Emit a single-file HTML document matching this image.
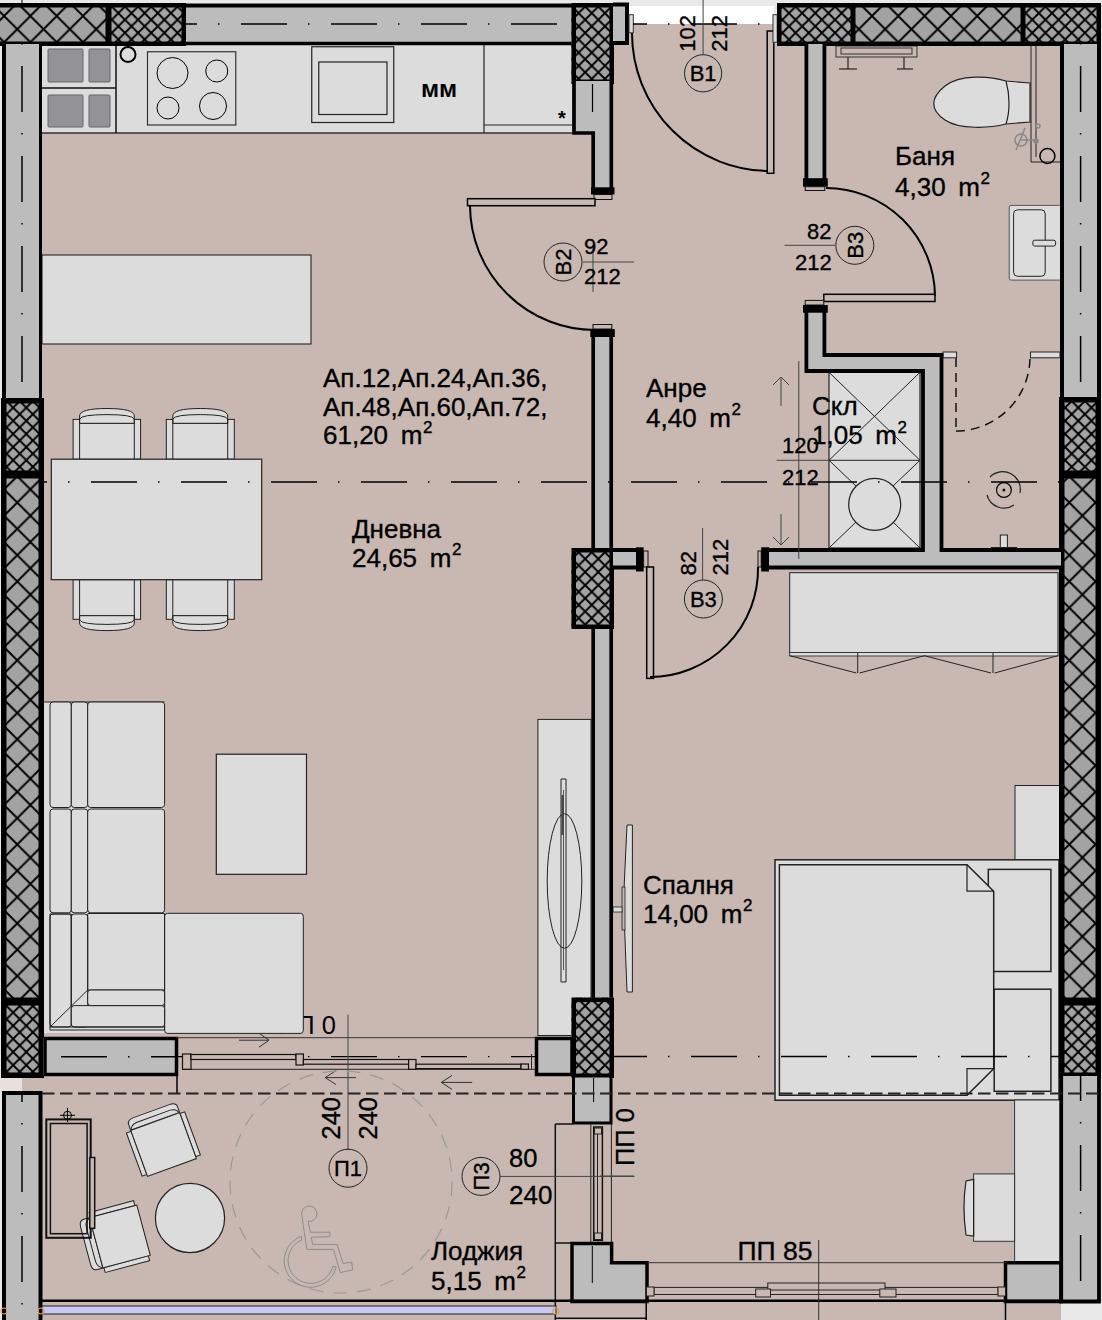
<!DOCTYPE html>
<html><head><meta charset="utf-8"><style>html,body{margin:0;padding:0;background:#e9e9e9;overflow:hidden}svg{display:block}</style></head>
<body><svg width="1102" height="1320" viewBox="0 0 1102 1320" font-family="Liberation Sans, sans-serif" style="white-space:pre">
<defs>
<pattern id="hb" patternUnits="userSpaceOnUse" width="26.3" height="26.3" patternTransform="translate(4.1 -10.3)">
<rect width="26.3" height="26.3" fill="#a3a3a3"/>
<path d="M-2 -2 L28.3 28.3 M28.3 -2 L-2 28.3" stroke="#000" stroke-width="1.9"/>
</pattern>
<pattern id="hs" patternUnits="userSpaceOnUse" width="13.15" height="13.15">
<rect width="13.15" height="13.15" fill="#a3a3a3"/>
<path d="M-1 -1 L14.15 14.15 M14.15 -1 L-1 14.15" stroke="#000" stroke-width="1.9"/>
</pattern>
</defs>
<rect x="0" y="0" width="1102" height="1320" fill="#e9e9e9"/>
<rect x="629" y="6" width="145" height="19" fill="#fff" stroke="none" stroke-width="1" />
<rect x="42" y="44" width="551" height="993" fill="#c9b8b2" stroke="none" stroke-width="1" />
<rect x="42" y="24" width="1019" height="1013" fill="#c9b8b2" stroke="none" stroke-width="1" />
<rect x="611" y="24" width="450" height="1276" fill="#c9b8b2" stroke="none" stroke-width="1" />
<rect x="22" y="1037" width="571" height="56" fill="#c9b8b2" stroke="none" stroke-width="1" />
<rect x="41" y="1093" width="570" height="207" fill="#c9b8b2" stroke="none" stroke-width="1" />
<rect x="42" y="1300" width="1019" height="20" fill="#c9b8b2" stroke="none" stroke-width="1" />
<rect x="0" y="1076" width="22" height="17" fill="#e8e0dc" stroke="none" stroke-width="1" />
<rect x="42" y="44" width="530" height="89" fill="#dcdcdc" stroke="none" stroke-width="1" />
<line x1="42" y1="133" x2="572" y2="133" stroke="#333" stroke-width="1.5" />
<line x1="116" y1="44" x2="116" y2="133" stroke="#111" stroke-width="1.5" />
<line x1="42" y1="88" x2="116" y2="88" stroke="#111" stroke-width="1.5" />
<rect x="48" y="49" width="35" height="33" rx="1" fill="#939397" stroke="#666" stroke-width="1" />
<rect x="89" y="49" width="21" height="33" rx="1" fill="#939397" stroke="#666" stroke-width="1" />
<rect x="48" y="95" width="35" height="32" rx="1" fill="#939397" stroke="#666" stroke-width="1" />
<rect x="89" y="95" width="21" height="32" rx="1" fill="#939397" stroke="#666" stroke-width="1" />
<circle cx="128" cy="54.5" r="7.5" fill="none" stroke="#000" stroke-width="2" />
<rect x="147.5" y="51.75" width="88.25" height="73.25" fill="none" stroke="#333" stroke-width="1.2" />
<circle cx="172.5" cy="73" r="15.5" fill="none" stroke="#000" stroke-width="1" />
<circle cx="216.75" cy="71" r="11" fill="none" stroke="#000" stroke-width="1" />
<circle cx="168" cy="108" r="11" fill="none" stroke="#000" stroke-width="1" />
<circle cx="213" cy="106" r="13.5" fill="none" stroke="#000" stroke-width="1" />
<rect x="311.75" y="46.75" width="82" height="75.75" fill="none" stroke="#222" stroke-width="1.2" />
<rect x="318.75" y="62" width="68.25" height="52.5" fill="none" stroke="#222" stroke-width="1.2" />
<text x="439" y="97" font-size="24.5" text-anchor="middle" font-weight="bold" >мм</text>
<line x1="484" y1="44" x2="484" y2="133" stroke="#222" stroke-width="1.2" />
<line x1="484" y1="125" x2="572" y2="125" stroke="#222" stroke-width="1.2" />
<text x="562" y="125" font-size="20" text-anchor="middle" font-weight="bold" >*</text>
<rect x="42" y="255" width="269" height="89" fill="#dcdcdc" stroke="#333" stroke-width="1.2" />
<rect x="73.1" y="419.4" width="67.5" height="39.8" fill="#dcdcdc" stroke="#222" stroke-width="1" />
<rect x="79.6" y="423.3" width="54.7" height="35.9" fill="#dcdcdc" stroke="#222" stroke-width="1" />
<path d="M79.6 423.3 L79.6 416 Q79.6 408.5 106.95 408.5 Q134.3 408.5 134.3 416 L134.3 423.3 Z" fill="#dcdcdc" stroke="#222" stroke-width="1" />
<path d="M79.6 423.3 L79.6 419 Q81.6 414.6 106.95 414.6 Q132.3 414.6 134.3 419 L134.3 423.3" fill="none" stroke="#222" stroke-width="1" />
<rect x="73.1" y="579.7" width="67.5" height="39.6" fill="#dcdcdc" stroke="#222" stroke-width="1" />
<rect x="79.6" y="579.7" width="54.7" height="36" fill="#dcdcdc" stroke="#222" stroke-width="1" />
<path d="M79.6 615.7 L79.6 623 Q79.6 630.6 106.95 630.6 Q134.3 630.6 134.3 623 L134.3 615.7 Z" fill="#dcdcdc" stroke="#222" stroke-width="1" />
<path d="M79.6 615.7 L79.6 620 Q81.6 624.4 106.95 624.4 Q132.3 624.4 134.3 620 L134.3 615.7" fill="none" stroke="#222" stroke-width="1" />
<rect x="166.3" y="419.4" width="68" height="39.8" fill="#dcdcdc" stroke="#222" stroke-width="1" />
<rect x="172.8" y="423.3" width="54.9" height="35.9" fill="#dcdcdc" stroke="#222" stroke-width="1" />
<path d="M172.8 423.3 L172.8 416 Q172.8 408.5 200.25 408.5 Q227.7 408.5 227.7 416 L227.7 423.3 Z" fill="#dcdcdc" stroke="#222" stroke-width="1" />
<path d="M172.8 423.3 L172.8 419 Q174.8 414.6 200.25 414.6 Q225.7 414.6 227.7 419 L227.7 423.3" fill="none" stroke="#222" stroke-width="1" />
<rect x="166.3" y="579.7" width="68" height="39.6" fill="#dcdcdc" stroke="#222" stroke-width="1" />
<rect x="172.8" y="579.7" width="54.9" height="36" fill="#dcdcdc" stroke="#222" stroke-width="1" />
<path d="M172.8 615.7 L172.8 623 Q172.8 630.6 200.25 630.6 Q227.7 630.6 227.7 623 L227.7 615.7 Z" fill="#dcdcdc" stroke="#222" stroke-width="1" />
<path d="M172.8 615.7 L172.8 620 Q174.8 624.4 200.25 624.4 Q225.7 624.4 227.7 620 L227.7 615.7" fill="none" stroke="#222" stroke-width="1" />
<rect x="51.3" y="459.2" width="210.4" height="120.5" fill="#dcdcdc" stroke="#222" stroke-width="1.2" />
<text x="278" y="1034.3" font-size="25.5" text-anchor="start" font-weight="normal" >ПП 0</text>
<rect x="44" y="702" width="120.6" height="331" fill="#dcdcdc" stroke="none" stroke-width="1" />
<rect x="164.6" y="913.3" width="138.7" height="120.1" rx="3" fill="#dcdcdc" stroke="#222" stroke-width="1" />
<line x1="44" y1="702" x2="164.6" y2="702" stroke="#222" stroke-width="1" />
<rect x="50" y="702" width="21.3" height="105.5" rx="3" fill="#dcdcdc" stroke="#222" stroke-width="1" />
<rect x="71.3" y="702" width="16.4" height="105.5" rx="3" fill="#dcdcdc" stroke="#222" stroke-width="1" />
<rect x="50" y="809" width="21.3" height="103.8" rx="3" fill="#dcdcdc" stroke="#222" stroke-width="1" />
<rect x="71.3" y="809" width="16.4" height="103.8" rx="3" fill="#dcdcdc" stroke="#222" stroke-width="1" />
<rect x="50" y="914" width="21.3" height="113" rx="3" fill="#dcdcdc" stroke="#222" stroke-width="1" />
<rect x="71.3" y="914" width="16.4" height="113" rx="3" fill="#dcdcdc" stroke="#222" stroke-width="1" />
<rect x="87.7" y="702" width="76.9" height="105.5" rx="3" fill="#dcdcdc" stroke="#222" stroke-width="1" />
<rect x="87.7" y="809" width="76.9" height="103.8" rx="3" fill="#dcdcdc" stroke="#222" stroke-width="1" />
<path d="M87.7 913.5 L164.6 913.5 L164.6 1030 L50 1030 L50 914 L71.3 914" fill="none" stroke="#222" stroke-width="1" />
<path d="M87.7 914 L87.7 990 L164.6 990" fill="none" stroke="#222" stroke-width="1" />
<rect x="71.3" y="1005.6" width="93.3" height="21.4" rx="3" fill="#dcdcdc" stroke="#222" stroke-width="1" />
<rect x="87.7" y="990" width="76.9" height="15.6" rx="3" fill="#dcdcdc" stroke="#222" stroke-width="1" />
<line x1="71.3" y1="914" x2="71.3" y2="1006" stroke="#222" stroke-width="1" />
<line x1="50" y1="1027" x2="87.7" y2="990" stroke="#222" stroke-width="1" />
<line x1="50" y1="1027" x2="164.6" y2="1027" stroke="#222" stroke-width="1" />
<rect x="216.3" y="754.2" width="90.2" height="120.1" fill="#dcdcdc" stroke="#222" stroke-width="1.2" />
<rect x="537.9" y="719.4" width="53.1" height="316.1" fill="#dcdcdc" stroke="#222" stroke-width="1" />
<path d="M561 779 L566 779 L566 982 L561 982 Z" fill="#dcdcdc" stroke="#222" stroke-width="1" />
<line x1="563.5" y1="790" x2="563.5" y2="970" stroke="#333" stroke-width="0.8" />
<ellipse cx="564.5" cy="881" rx="17.3" ry="67.3" fill="none" stroke="#222" stroke-width="1"/>
<rect x="561.5" y="795" width="2" height="40" fill="#444" stroke="none" stroke-width="1" />
<path d="M627 825 L632.4 825 L632.4 992 L627 992 L623.5 900 Z" fill="#dcdcdc" stroke="#222" stroke-width="1" />
<rect x="622" y="887" width="3" height="43" fill="#bbb" stroke="#222" stroke-width="0.8" />
<rect x="613" y="907" width="9" height="5" fill="#dcdcdc" stroke="#222" stroke-width="0.8" />
<rect x="836" y="46" width="81" height="11" fill="none" stroke="#333" stroke-width="1" />
<rect x="841" y="48" width="71" height="6" fill="none" stroke="#333" stroke-width="1" />
<line x1="848" y1="57" x2="848" y2="69" stroke="#222" stroke-width="1.2" />
<line x1="839" y1="69" x2="857" y2="69" stroke="#222" stroke-width="1.2" />
<line x1="904" y1="57" x2="904" y2="69" stroke="#222" stroke-width="1.2" />
<line x1="897" y1="69" x2="913" y2="69" stroke="#222" stroke-width="1.2" />
<path d="M1030 83 L1006 81 C 990 76, 960 74, 945 86 C 930 98, 930 110, 945 120 C 960 130, 990 128, 1006 124 L1030 122 Z" fill="#dcdcdc" stroke="#222" stroke-width="1.2" />
<path d="M1006 81 C 1010 95, 1010 112, 1006 124" fill="none" stroke="#222" stroke-width="1.2" />
<path d="M1031 44 L1031 162 L1060 162 M1036 44 L1036 157" fill="none" stroke="#222" stroke-width="1" />
<circle cx="1047.4" cy="156" r="7.5" fill="none" stroke="#000" stroke-width="1.5" />
<g stroke="#888" fill="none" stroke-width="1.5"><circle cx="1021" cy="140" r="6"/><line x1="1016" y1="150" x2="1025" y2="128"/><line x1="1021" y1="140" x2="1035" y2="140"/><circle cx="1036" cy="141" r="2" fill="#888"/><circle cx="1038" cy="126" r="2"/></g>
<rect x="1009.2" y="205.4" width="52.3" height="74.7" rx="2" fill="#dcdcdc" stroke="#555" stroke-width="1" />
<rect x="1013.6" y="209.8" width="31.6" height="66.5" rx="4" fill="#dcdcdc" stroke="#222" stroke-width="1" />
<rect x="1032.8" y="240.2" width="22.8" height="5.9" rx="2" fill="#dcdcdc" stroke="#222" stroke-width="1" />
<circle cx="1003.9" cy="490" r="7.4" fill="none" stroke="#000" stroke-width="1.2" />
<circle cx="1003.9" cy="490" r="1.5" fill="#000" stroke="#000" stroke-width="0" />
<path d="M 990 477 A 17.7 17.7 0 0 1 1020 493" fill="none" stroke="#222" stroke-width="1.2" />
<path d="M 1014 505 A 17.7 17.7 0 0 1 987 495" fill="none" stroke="#222" stroke-width="1.2" />
<rect x="1000.3" y="535" width="7.1" height="12.6" fill="#dcdcdc" stroke="#222" stroke-width="1" />
<line x1="991" y1="547.5" x2="1017" y2="547.5" stroke="#222" stroke-width="1" />
<path d="M956 358 L956 428 M956 431 A 74 74 0 0 0 1030 358" fill="none" stroke="#111" stroke-width="1.5" stroke-dasharray="9 6"/>
<rect x="943" y="352" width="13.6" height="5.8" fill="#dcdcdc" stroke="#222" stroke-width="1" />
<rect x="1030.5" y="352" width="29.5" height="5.8" fill="#dcdcdc" stroke="#222" stroke-width="1" />
<rect x="829" y="372.3" width="91" height="175.7" fill="#dcdcdc" stroke="#222" stroke-width="1.2" />
<line x1="829" y1="460.3" x2="920" y2="460.3" stroke="#222" stroke-width="1" />
<line x1="829" y1="372.3" x2="920" y2="460.3" stroke="#222" stroke-width="1" />
<line x1="920" y1="372.3" x2="829" y2="460.3" stroke="#222" stroke-width="1" />
<line x1="829" y1="460.3" x2="856" y2="486" stroke="#222" stroke-width="1" />
<line x1="920" y1="460.3" x2="893" y2="486" stroke="#222" stroke-width="1" />
<line x1="829" y1="548" x2="856" y2="522" stroke="#222" stroke-width="1" />
<line x1="920" y1="548" x2="893" y2="522" stroke="#222" stroke-width="1" />
<circle cx="874.7" cy="504.4" r="26" fill="#dcdcdc" stroke="#222" stroke-width="1.2" />
<rect x="789.7" y="572.7" width="268.3" height="79.8" fill="#dcdcdc" stroke="#222" stroke-width="1" />
<rect x="789.7" y="652.5" width="268.3" height="3.5" fill="#dcdcdc" stroke="#222" stroke-width="0.8" />
<path d="M789.7 655.7 L856.4 673 M857.7 653 L857.7 673 M859.5 673 L924.4 655.7 L991 673 M993 653 L993 673 M994.7 673 L1058 655.7" fill="none" stroke="#222" stroke-width="1" />
<rect x="1015" y="785.5" width="46" height="74.5" fill="#dcdcdc" stroke="#222" stroke-width="1" />
<rect x="775" y="859.8" width="284" height="240.4" fill="#dcdcdc" stroke="#222" stroke-width="1.5" />
<rect x="988.3" y="869.4" width="62.6" height="102.1" fill="#dcdcdc" stroke="#222" stroke-width="1.5" />
<path d="M779.4 864.7 L967 864.7 L993.7 891.2 L993.7 1068.7 L967 1095.3 L779.4 1095.3 Z" fill="#dcdcdc" stroke="#222" stroke-width="1.5" />
<path d="M967 864.7 L967 891.2 L993.7 891.2 M967 1095.3 L967 1068.7 L993.7 1068.7" fill="none" stroke="#222" stroke-width="1.2" />
<rect x="994.2" y="989.2" width="56.7" height="102.1" fill="none" stroke="#222" stroke-width="1.5" />
<rect x="1014.6" y="1100" width="46.4" height="162.7" fill="#dcdcdc" stroke="#333" stroke-width="1" />
<rect x="973.6" y="1173.9" width="41" height="67.4" fill="#dcdcdc" stroke="#333" stroke-width="1" />
<path d="M973.6 1179.4 L966 1181 Q 962 1207 966 1235 L973.6 1236 Z" fill="#dcdcdc" stroke="#222" stroke-width="1.2" />
<line x1="973.6" y1="1179.4" x2="973.6" y2="1235.4" stroke="#222" stroke-width="1" />
<rect x="185" y="4" width="387" height="40" fill="#bcbcbc" stroke="none" stroke-width="1" />
<line x1="185" y1="5.5" x2="572" y2="5.5" stroke="#000" stroke-width="4" />
<line x1="185" y1="43.5" x2="572" y2="43.5" stroke="#000" stroke-width="3.5" />
<line x1="0" y1="24" x2="572" y2="24" stroke="#000" stroke-width="1.5" stroke-dasharray="46 21 1.5 21.5" stroke-dashoffset="29.00"/>
<rect x="-6" y="3" width="116" height="43" fill="url(#hb)" stroke="none" stroke-width="1" />
<rect x="-3.75" y="5.25" width="111.5" height="38.5" fill="none" stroke="#000" stroke-width="4.5" />
<rect x="107" y="3" width="79" height="43" fill="url(#hs)" stroke="none" stroke-width="1" />
<rect x="109.25" y="5.25" width="74.5" height="38.5" fill="none" stroke="#000" stroke-width="4.5" />
<line x1="22" y1="0" x2="22" y2="3" stroke="#000" stroke-width="1"/>
<rect x="2" y="44" width="40" height="354" fill="#bcbcbc" stroke="none" stroke-width="1" />
<line x1="4" y1="44" x2="4" y2="398" stroke="#000" stroke-width="4" />
<line x1="40.5" y1="44" x2="40.5" y2="398" stroke="#000" stroke-width="3" />
<line x1="22" y1="44" x2="22" y2="398" stroke="#000" stroke-width="1.5" stroke-dasharray="46 21 1.5 21.5" stroke-dashoffset="68.00"/>
<rect x="1" y="398" width="43" height="78" fill="url(#hs)" stroke="none" stroke-width="1" />
<rect x="3.75" y="400.75" width="37.5" height="72.5" fill="none" stroke="#000" stroke-width="5.5" />
<rect x="1" y="473" width="43" height="530" fill="url(#hb)" stroke="none" stroke-width="1" />
<rect x="3.75" y="475.75" width="37.5" height="524.5" fill="none" stroke="#000" stroke-width="5.5" />
<rect x="1" y="1000" width="43" height="78" fill="url(#hs)" stroke="none" stroke-width="1" />
<rect x="3.75" y="1002.75" width="37.5" height="72.5" fill="none" stroke="#000" stroke-width="5.5" />
<rect x="571.5" y="3" width="42.5" height="81" fill="url(#hs)" stroke="none" stroke-width="1" />
<rect x="573.75" y="5.25" width="38" height="76.5" fill="none" stroke="#000" stroke-width="4.5" />
<rect x="574" y="81" width="38" height="52" fill="#bcbcbc" stroke="none" stroke-width="1" />
<rect x="594" y="133" width="18" height="57" fill="#bcbcbc" stroke="none" stroke-width="1" />
<path d="M574 81 L574 133 L593.2 133 L593.2 190 M611.3 81 L611.3 190" fill="none" stroke="#000" stroke-width="3.7" />
<rect x="591" y="187.3" width="23.5" height="7.2" fill="#000" stroke="none" stroke-width="1" />
<rect x="594" y="194.5" width="18" height="5" fill="#c9b8b2" stroke="#111" stroke-width="1" />
<line x1="592.5" y1="84" x2="592.5" y2="112" stroke="#000" stroke-width="1.2" />
<rect x="613" y="4" width="15" height="40" fill="#bcbcbc" stroke="none" stroke-width="1" />
<path d="M613 4.5 L627 4.5 L627 43 L613 43" fill="none" stroke="#000" stroke-width="4" />
<rect x="629" y="14.7" width="4.3" height="18.1" fill="#dcdcdc" stroke="#333" stroke-width="1" />
<path d="M632 33 A 138 138 0 0 0 770 171" fill="none" stroke="#000" stroke-width="2" />
<rect x="767.2" y="31" width="6.6" height="142.3" fill="#c9b8b2" stroke="#000" stroke-width="1.5" />
<rect x="773" y="14.7" width="4.2" height="27.5" fill="#dcdcdc" stroke="#333" stroke-width="1" />
<line x1="633" y1="24" x2="768" y2="24" stroke="#000" stroke-width="1.5" stroke-dasharray="46 21 1.5 21.5" stroke-dashoffset="32.00"/>
<rect x="777" y="3" width="78" height="43" fill="url(#hs)" stroke="none" stroke-width="1" />
<rect x="779.25" y="5.25" width="73.5" height="38.5" fill="none" stroke="#000" stroke-width="4.5" />
<rect x="851" y="3" width="174" height="43" fill="url(#hb)" stroke="none" stroke-width="1" />
<rect x="853.25" y="5.25" width="169.5" height="38.5" fill="none" stroke="#000" stroke-width="4.5" />
<rect x="1021" y="3" width="80" height="43" fill="url(#hs)" stroke="none" stroke-width="1" />
<rect x="1023.25" y="5.25" width="75.5" height="38.5" fill="none" stroke="#000" stroke-width="4.5" />
<rect x="1061" y="44" width="38" height="354" fill="#bcbcbc" stroke="none" stroke-width="1" />
<line x1="1062" y1="44" x2="1062" y2="398" stroke="#000" stroke-width="4" />
<line x1="1099" y1="44" x2="1099" y2="398" stroke="#000" stroke-width="4" />
<line x1="1080.6" y1="44" x2="1080.6" y2="398" stroke="#000" stroke-width="1.5" stroke-dasharray="46 21 1.5 21.5" stroke-dashoffset="68.00"/>
<rect x="1059" y="397" width="42" height="79" fill="url(#hs)" stroke="none" stroke-width="1" />
<rect x="1061.75" y="399.75" width="36.5" height="73.5" fill="none" stroke="#000" stroke-width="5.5" />
<rect x="1059" y="473" width="42" height="530" fill="url(#hb)" stroke="none" stroke-width="1" />
<rect x="1061.75" y="475.75" width="36.5" height="524.5" fill="none" stroke="#000" stroke-width="5.5" />
<rect x="1059" y="1000" width="42" height="78" fill="url(#hs)" stroke="none" stroke-width="1" />
<rect x="1061.75" y="1002.75" width="36.5" height="72.5" fill="none" stroke="#000" stroke-width="5.5" />
<rect x="593" y="330" width="18" height="670" fill="#bcbcbc" stroke="none" stroke-width="1" />
<line x1="593.2" y1="330" x2="593.2" y2="1000" stroke="#000" stroke-width="3.7" />
<line x1="611.2" y1="330" x2="611.2" y2="1000" stroke="#000" stroke-width="3.7" />
<rect x="590.3" y="329" width="24.5" height="8" fill="#000" stroke="none" stroke-width="1" />
<rect x="593" y="324.5" width="18.8" height="4.5" fill="#c9b8b2" stroke="#111" stroke-width="1" />
<rect x="467.5" y="198.7" width="127.5" height="7" fill="#c9b8b2" stroke="#000" stroke-width="1.5" />
<path d="M470 205.7 A 125 125 0 0 0 595 330" fill="none" stroke="#000" stroke-width="2" />
<rect x="571.5" y="548" width="42.5" height="81" fill="url(#hs)" stroke="none" stroke-width="1" />
<rect x="573.75" y="550.25" width="38" height="76.5" fill="none" stroke="#000" stroke-width="4.5" />
<rect x="571.5" y="997.6" width="42.5" height="80.4" fill="url(#hs)" stroke="none" stroke-width="1" />
<rect x="573.75" y="999.85" width="38" height="75.9" fill="none" stroke="#000" stroke-width="4.5" />
<rect x="613" y="550" width="27" height="18" fill="#bcbcbc" stroke="none" stroke-width="1" />
<path d="M613 550 L638 550 M613 567.5 L638 567.5" fill="none" stroke="#000" stroke-width="4" />
<rect x="636" y="547.3" width="7.6" height="24.2" fill="#000" stroke="none" stroke-width="1" />
<rect x="643.6" y="551" width="4.4" height="16" fill="#c9b8b2" stroke="#111" stroke-width="1" />
<rect x="646.7" y="567" width="6.8" height="111.4" fill="#c9b8b2" stroke="#000" stroke-width="1.5" />
<path d="M758 567 A 108 108 0 0 1 650 677" fill="none" stroke="#000" stroke-width="2" />
<rect x="758" y="551" width="3.2" height="16" fill="#c9b8b2" stroke="#111" stroke-width="1" />
<rect x="806" y="44" width="20" height="142" fill="#bcbcbc" stroke="none" stroke-width="1" />
<path d="M806.4 44 L806.4 182 M824.4 44 L824.4 182" fill="none" stroke="#000" stroke-width="3.8" />
<rect x="803" y="178.2" width="24.8" height="8.5" fill="#000" stroke="none" stroke-width="1" />
<rect x="805.2" y="186.7" width="19.6" height="3.8" fill="#c9b8b2" stroke="#111" stroke-width="1" />
<rect x="823.8" y="294.3" width="111.2" height="7.2" fill="#c9b8b2" stroke="#000" stroke-width="1.5" />
<path d="M826 188 A 109 109 0 0 1 935 296" fill="none" stroke="#000" stroke-width="2" />
<rect x="806" y="306" width="19" height="65" fill="#bcbcbc" stroke="none" stroke-width="1" />
<rect x="806" y="355" width="135.5" height="16" fill="#bcbcbc" stroke="none" stroke-width="1" />
<rect x="923" y="355" width="18.5" height="212" fill="#bcbcbc" stroke="none" stroke-width="1" />
<rect x="766" y="550" width="295" height="17" fill="#bcbcbc" stroke="none" stroke-width="1" />
<path d="M806.4 306 L806.4 371 L923 371 L923 550 L766 550 M824.4 306 L824.4 355 L941.5 355 L941.5 550 L1061 550 M766 567.5 L1061 567.5" fill="none" stroke="#000" stroke-width="3.8" />
<rect x="805.2" y="300.4" width="18.6" height="4.6" fill="#c9b8b2" stroke="#111" stroke-width="1" />
<rect x="803" y="305" width="24.8" height="7.7" fill="#000" stroke="none" stroke-width="1" />
<rect x="761.2" y="547.3" width="7.8" height="24.2" fill="#000" stroke="none" stroke-width="1" />
<rect x="43" y="1037" width="135" height="39" fill="#bcbcbc" stroke="none" stroke-width="1" />
<rect x="45" y="1038.5" width="131.5" height="36" fill="none" stroke="#000" stroke-width="3.5" />
<line x1="45" y1="1056.8" x2="176" y2="1056.8" stroke="#000" stroke-width="1.5" stroke-dasharray="46 21 1.5 21.5" stroke-dashoffset="74.00"/>
<rect x="535" y="1037" width="37" height="39" fill="#bcbcbc" stroke="none" stroke-width="1" />
<rect x="536.5" y="1038.5" width="35.5" height="36" fill="none" stroke="#000" stroke-width="3.5" />
<line x1="177" y1="1076" x2="177" y2="1093" stroke="#000" stroke-width="1.5" />
<line x1="176" y1="1037.7" x2="535.7" y2="1037.7" stroke="#333" stroke-width="1" />
<line x1="182.5" y1="1069.3" x2="535.7" y2="1069.3" stroke="#222" stroke-width="1" />
<line x1="178" y1="1056.6" x2="535" y2="1056.6" stroke="#000" stroke-width="1.2" stroke-dasharray="46 21 1.5 21.5" stroke-dashoffset="27.00"/>
<rect x="182.5" y="1054" width="8.5" height="15.3" fill="#c9b8b2" stroke="#111" stroke-width="1.2" />
<rect x="191" y="1054.5" width="105" height="5" fill="#c9b8b2" stroke="#111" stroke-width="1.2" />
<rect x="296" y="1054" width="7.4" height="11" fill="#c9b8b2" stroke="#111" stroke-width="1.2" />
<rect x="303.4" y="1059.5" width="105.2" height="4.7" fill="#c9b8b2" stroke="#111" stroke-width="1.2" />
<rect x="408.6" y="1059.5" width="7.4" height="9.8" fill="#c9b8b2" stroke="#111" stroke-width="1.2" />
<rect x="416" y="1064.2" width="105" height="4.4" fill="#c9b8b2" stroke="#111" stroke-width="1.2" />
<rect x="521" y="1064" width="7.4" height="5.3" fill="#c9b8b2" stroke="#111" stroke-width="1.2" />
<line x1="531.5" y1="1054" x2="531.5" y2="1069.3" stroke="#222" stroke-width="1" />
<path d="M239 1040.2 L269 1040.2 M259 1033.2 L269 1040.2 L259 1047.2" fill="none" stroke="#333" stroke-width="1" />
<path d="M356 1077.6 L325.2 1077.6 M336 1070.6 L325.2 1077.6 L336 1084.6" fill="none" stroke="#333" stroke-width="1" />
<path d="M472.2 1082.4 L441.3 1082.4 M452 1075.4 L441.3 1082.4 L452 1089.4" fill="none" stroke="#333" stroke-width="1" />
<rect x="3" y="1093" width="39" height="227" fill="#bcbcbc" stroke="none" stroke-width="1" />
<path d="M4 1320 L4 1093 L40.5 1093 L40.5 1320" fill="none" stroke="#000" stroke-width="4" />
<line x1="22" y1="1093" x2="22" y2="1320" stroke="#000" stroke-width="1.5" stroke-dasharray="46 21 1.5 21.5" stroke-dashoffset="37.00"/>
<rect x="573.5" y="1076" width="37.5" height="47" fill="#bcbcbc" stroke="#000" stroke-width="3" />
<line x1="593.6" y1="1078" x2="593.6" y2="1102" stroke="#000" stroke-width="1" />
<path d="M555.3 1124 L555.3 1320 M555.3 1124 L573 1124 M555.3 1243 L573 1243 M555.3 1318.2 L646.2 1318.2" fill="none" stroke="#111" stroke-width="1.5" />
<line x1="590.8" y1="1124" x2="590.8" y2="1243" stroke="#222" stroke-width="1" />
<line x1="611.4" y1="1124" x2="611.4" y2="1243" stroke="#222" stroke-width="1" />
<rect x="593.7" y="1127" width="8.7" height="113.4" fill="#c9b8b2" stroke="#111" stroke-width="1.5" />
<line x1="597.5" y1="1134" x2="597.5" y2="1233" stroke="#222" stroke-width="1" />
<rect x="594.5" y="1128" width="7" height="6" fill="#c9b8b2" stroke="#222" stroke-width="1" />
<rect x="594.5" y="1233" width="7" height="6.5" fill="#c9b8b2" stroke="#222" stroke-width="1" />
<polygon points="572,1243.4 611.6,1243.4 611.6,1262.7 647,1262.7 647,1301.5 572,1301.5" fill="#bcbcbc" stroke="#000" stroke-width="3.5"/>
<line x1="592.3" y1="1246" x2="592.3" y2="1283" stroke="#000" stroke-width="1" />
<polygon points="1005.5,1262.7 1061,1262.7 1061,1301.5 1005.5,1301.5" fill="#bcbcbc" stroke="#000" stroke-width="3.5"/>
<rect x="1061" y="1076" width="38" height="225.5" fill="#bcbcbc" stroke="none" stroke-width="1" />
<path d="M1061.2 1076 L1061.2 1301.5 L1099 1301.5 L1099 1076" fill="none" stroke="#000" stroke-width="3.8" />
<line x1="1080.6" y1="1076" x2="1080.6" y2="1301" stroke="#000" stroke-width="1.5" stroke-dasharray="46 21 1.5 21.5" stroke-dashoffset="21.00"/>
<line x1="647" y1="1262.7" x2="1005.5" y2="1262.7" stroke="#333" stroke-width="1" />
<rect x="654" y="1287.4" width="344" height="7.1" fill="#c9b8b2" stroke="#222" stroke-width="1" />
<rect x="767.8" y="1283" width="117.2" height="7" fill="#c9b8b2" stroke="#222" stroke-width="1" />
<rect x="755.7" y="1289" width="14.8" height="8" fill="#c9b8b2" stroke="#222" stroke-width="1" />
<rect x="879.8" y="1289" width="16.2" height="8" fill="#c9b8b2" stroke="#222" stroke-width="1" />
<rect x="646.5" y="1287" width="7.5" height="9" fill="#c9b8b2" stroke="#222" stroke-width="1" />
<rect x="998" y="1287" width="7.5" height="9" fill="#c9b8b2" stroke="#222" stroke-width="1" />
<line x1="42" y1="1300.8" x2="1063" y2="1300.8" stroke="#000" stroke-width="2.5" />
<line x1="1005.5" y1="1301" x2="1005.5" y2="1320" stroke="#000" stroke-width="1.5" />
<line x1="646.2" y1="1301" x2="646.2" y2="1320" stroke="#000" stroke-width="1.5" />
<line x1="818.7" y1="1240" x2="818.7" y2="1320" stroke="#333" stroke-width="1" />
<rect x="42" y="1306" width="514" height="8" fill="#c8c8f0" stroke="#222" stroke-width="1" />
<circle cx="41" cy="1311" r="3" fill="none" stroke="#e0a060" stroke-width="1.2" />
<circle cx="4" cy="1311" r="3" fill="none" stroke="#e0a060" stroke-width="1.2" />
<circle cx="556" cy="1311" r="3" fill="none" stroke="#e0a060" stroke-width="1.2" />
<line x1="613" y1="1056.6" x2="1061" y2="1056.6" stroke="#000" stroke-width="1.5" stroke-dasharray="46 21 1.5 21.5" stroke-dashoffset="12.00"/>
<line x1="42" y1="1093.5" x2="1102" y2="1093.5" stroke="#222" stroke-width="2" stroke-dasharray="12.5 5.5"/>
<line x1="44" y1="482" x2="1061" y2="482" stroke="#000" stroke-width="1.5" stroke-dasharray="46 21 1.5 21.5" stroke-dashoffset="43.00"/>
<line x1="703.1" y1="0" x2="703.1" y2="54.3" stroke="#444" stroke-width="1" />
<circle cx="703.1" cy="73.3" r="18.6" fill="none" stroke="#222" stroke-width="1" />
<line x1="583" y1="262" x2="634" y2="262" stroke="#444" stroke-width="1" />
<line x1="593" y1="245" x2="593" y2="292" stroke="#444" stroke-width="1" />
<circle cx="563" cy="262" r="19" fill="none" stroke="#222" stroke-width="1" />
<line x1="784.6" y1="245.3" x2="835" y2="245.3" stroke="#444" stroke-width="1" />
<circle cx="854.8" cy="245.3" r="19" fill="none" stroke="#222" stroke-width="1" />
<line x1="702.6" y1="528" x2="702.6" y2="580" stroke="#444" stroke-width="1" />
<circle cx="703.4" cy="599" r="19" fill="none" stroke="#222" stroke-width="1" />
<line x1="798.8" y1="361" x2="798.8" y2="559" stroke="#444" stroke-width="1" />
<line x1="776.6" y1="460.3" x2="829" y2="460.3" stroke="#444" stroke-width="1" />
<path d="M781 377 L781 406 M773 385 L781 377 L789 385" fill="none" stroke="#444" stroke-width="1" />
<path d="M781 514 L781 545 M773 537 L781 545 L789 537" fill="none" stroke="#444" stroke-width="1" />
<line x1="348" y1="1014.7" x2="348" y2="1150" stroke="#444" stroke-width="1" />
<circle cx="348" cy="1168.2" r="19" fill="none" stroke="#222" stroke-width="1" />
<line x1="500" y1="1176.4" x2="634.5" y2="1176.4" stroke="#444" stroke-width="1" />
<circle cx="481" cy="1176.4" r="19" fill="none" stroke="#222" stroke-width="1" />
<line x1="600" y1="1176" x2="634" y2="1176" stroke="#444" stroke-width="1" />
<circle cx="341" cy="1182" r="111" fill="none" stroke="#999" stroke-width="1.2" stroke-dasharray="14 10"/>
<g stroke="#8c8c8c" fill="none" stroke-width="1"><path d="M308.1 1221.3 A 7.7 7.7 0 1 0 301.8 1215.4 L306.8 1249.4 L333.5 1249.4 L340.3 1272.6 L352.6 1269.9 L351.7 1262.1 L343 1263.5 L337.2 1244.4 L312.6 1244.4 L311.3 1237.2 L329.9 1236.7 L329.9 1232.2 L310.4 1232.2 Z"/><path d="M301.3 1236.3 A 26.3 26.3 0 1 0 336.2 1266.7 L332.8 1266.5 A 22.7 22.7 0 1 1 301.7 1239.9 Z"/></g>
<g transform="translate(163.4,1144) rotate(-20)" fill="#dcdcdc" stroke="#222" stroke-width="1">
<rect x="-31" y="-23" width="5" height="46"/>
<rect x="26" y="-23" width="5" height="46"/>
<path d="M-26 -24 L-26 -30 Q-26 -35 -19 -35 L19 -35 Q26 -35 26 -30 L26 -24 Z"/>
<path d="M-26 -22 Q-25 -29 -18 -29.5 L18 -29.5 Q25 -29 26 -22" fill="none"/>
<rect x="-26" y="-24" width="52" height="49"/>
</g>
<g transform="translate(119.4,1236.6) rotate(-105)" fill="#dcdcdc" stroke="#222" stroke-width="1">
<rect x="-31" y="-23" width="5" height="46"/>
<rect x="26" y="-23" width="5" height="46"/>
<path d="M-26 -24 L-26 -30 Q-26 -35 -19 -35 L19 -35 Q26 -35 26 -30 L26 -24 Z"/>
<path d="M-26 -22 Q-25 -29 -18 -29.5 L18 -29.5 Q25 -29 26 -22" fill="none"/>
<rect x="-26" y="-24" width="52" height="49"/>
</g>
<circle cx="190" cy="1218" r="34.6" fill="#dcdcdc" stroke="#222" stroke-width="1.2" />
<rect x="46.3" y="1119.4" width="44.4" height="118.4" fill="none" stroke="#111" stroke-width="2" />
<rect x="50.4" y="1123.5" width="36.7" height="110.2" fill="none" stroke="#111" stroke-width="1.5" />
<rect x="89.8" y="1157.5" width="4.9" height="70.8" fill="#c9b8b2" stroke="#111" stroke-width="1.5" />
<circle cx="67.5" cy="1115.3" r="4" fill="none" stroke="#000" stroke-width="1" />
<line x1="67.5" y1="1108" x2="67.5" y2="1122" stroke="#000" stroke-width="1" />
<line x1="60" y1="1115.3" x2="75" y2="1115.3" stroke="#000" stroke-width="1" />
<g font-family="Liberation Sans, sans-serif" fill="#000" stroke="#000" stroke-width="0.35">
<text x="323" y="387.3" font-size="26" text-anchor="start" font-weight="normal" >Ап.12,Ап.24,Ап.36,</text>
<text x="323" y="415.8" font-size="26" text-anchor="start" font-weight="normal" >Ап.48,Ап.60,Ап.72,</text>
<text x="323" y="444.3" font-size="26" text-anchor="start" font-weight="normal" >61,20&#160;<tspan dx="5.5">m</tspan><tspan font-size="17" dy="-11.5" dx="0.5">2</tspan></text>
<text x="352" y="537.5" font-size="26" text-anchor="start" font-weight="normal" >Дневна</text>
<text x="352" y="566.9" font-size="26" text-anchor="start" font-weight="normal" >24,65&#160;<tspan dx="5.5">m</tspan><tspan font-size="17" dy="-11.5" dx="0.5">2</tspan></text>
<text x="895" y="165.4" font-size="26" text-anchor="start" font-weight="normal" >Баня</text>
<text x="895" y="195.8" font-size="26" text-anchor="start" font-weight="normal" >4,30&#160;<tspan dx="5.5">m</tspan><tspan font-size="17" dy="-11.5" dx="0.5">2</tspan></text>
<text x="646" y="397.2" font-size="26" text-anchor="start" font-weight="normal" >Анре</text>
<text x="646" y="426.6" font-size="26" text-anchor="start" font-weight="normal" >4,40&#160;<tspan dx="5.5">m</tspan><tspan font-size="17" dy="-11.5" dx="0.5">2</tspan></text>
<text x="812" y="414.8" font-size="26" text-anchor="start" font-weight="normal" >Скл</text>
<text x="812" y="444.1" font-size="26" text-anchor="start" font-weight="normal" >1,05&#160;<tspan dx="5.5">m</tspan><tspan font-size="17" dy="-11.5" dx="0.5">2</tspan></text>
<text x="643" y="893.5" font-size="26" text-anchor="start" font-weight="normal" >Спалня</text>
<text x="643" y="922.9" font-size="26" text-anchor="start" font-weight="normal" >14,00&#160;<tspan dx="5.5">m</tspan><tspan font-size="17" dy="-11.5" dx="0.5">2</tspan></text>
<text x="431" y="1260.2" font-size="26" text-anchor="start" font-weight="normal" >Лоджия</text>
<text x="431" y="1289.6" font-size="26" text-anchor="start" font-weight="normal" >5,15&#160;<tspan dx="5.5">m</tspan><tspan font-size="17" dy="-11.5" dx="0.5">2</tspan></text>
<text font-size="22" transform="translate(695.3 51.7) rotate(-90)">102</text>
<text font-size="22" transform="translate(727.2 51.7) rotate(-90)">212</text>
<text font-size="22" x="703.1" y="81" text-anchor="middle">B1</text>
<text x="584" y="254" font-size="22" text-anchor="start" font-weight="normal" >92</text>
<text x="584" y="284" font-size="22" text-anchor="start" font-weight="normal" >212</text>
<text font-size="22" transform="translate(571 262) rotate(-90)" text-anchor="middle">B2</text>
<text x="807" y="238.8" font-size="22" text-anchor="start" font-weight="normal" >82</text>
<text x="795" y="269.8" font-size="22" text-anchor="start" font-weight="normal" >212</text>
<text font-size="22" transform="translate(862.8 245.3) rotate(-90)" text-anchor="middle">B3</text>
<text font-size="22" transform="translate(696 575.4) rotate(-90)">82</text>
<text font-size="22" transform="translate(728 575.4) rotate(-90)">212</text>
<text font-size="22" x="703.4" y="607" text-anchor="middle">B3</text>
<text x="782" y="452.6" font-size="22" text-anchor="start" font-weight="normal" >120</text>
<text x="782" y="485" font-size="22" text-anchor="start" font-weight="normal" >212</text>
<text font-size="25.5" transform="translate(339.5 1139.5) rotate(-90)">240</text>
<text font-size="25.5" transform="translate(377.4 1139.5) rotate(-90)">240</text>
<text font-size="22" x="348" y="1176" text-anchor="middle">П1</text>
<text x="509" y="1167.3" font-size="25.5" text-anchor="start" font-weight="normal" >80</text>
<text x="509" y="1204.2" font-size="26" text-anchor="start" font-weight="normal" >240</text>
<text font-size="22" transform="translate(489 1176.4) rotate(-90)" text-anchor="middle">П3</text>
<text font-size="25.5" transform="translate(633.5 1166) rotate(-90)">ПП 0</text>
<text x="737.5" y="1259.5" font-size="26.5" text-anchor="start" font-weight="normal" >ПП 85</text>
</g>
</svg></body></html>
